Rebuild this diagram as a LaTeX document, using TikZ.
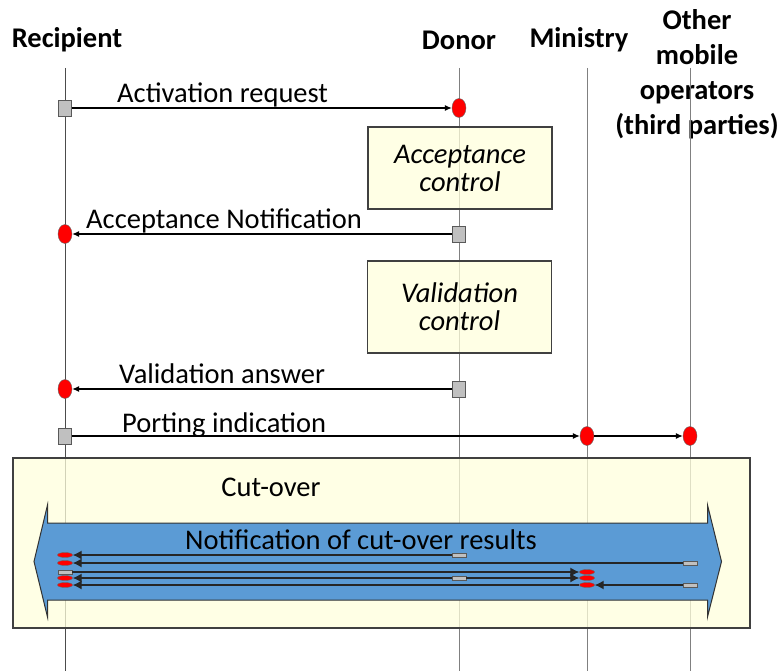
\documentclass[tikz,border=0pt]{standalone}
\usepackage{fontspec}
\setmainfont{Carlito}
\usetikzlibrary{arrows.meta,shapes.geometric}

\definecolor{notebox}{RGB}{255,255,220}
\definecolor{cutblue}{RGB}{91,155,213}
\definecolor{markgray}{RGB}{192,192,192}

\tikzset{
  head/.style={font=\fontsize{28.5}{35}\selectfont\bfseries, align=center},
  msg/.style={font=\fontsize{28.5}{30}\selectfont, anchor=base west, inner sep=0pt},
  life/.style={draw=gray, line width=1pt},
  ctrlbox/.style={draw=black!75, line width=1.2pt, fill=notebox, fill opacity=0.75, text opacity=1,
    minimum width=184pt, align=center, font=\fontsize{28.5}{28}\selectfont\itshape},
  sendbox/.style={rectangle, draw=black!65, fill=markgray, minimum width=13pt, minimum height=16pt, inner sep=0pt},
  recvdot/.style={ellipse, draw=black!60, fill=red, minimum width=14pt, minimum height=19pt, inner sep=0pt},
  msgline/.style={line width=1.1pt, -{Latex[length=7pt,width=6pt]}},
  smallsend/.style={rectangle, draw=black!65, fill=markgray, minimum width=14pt, minimum height=4pt, inner sep=0pt},
  smallrecv/.style={ellipse, draw=black!60, fill=red, minimum width=15pt, minimum height=5pt, inner sep=0pt},
  noteline/.style={draw=black!85, line width=1.3pt, -{Latex[length=9pt,width=9pt]}},
}

\begin{document}
\begin{tikzpicture}[x=1pt, y=-1pt]
  \useasboundingbox (0,0) rectangle (781,671);

  % parties
  \node[head] (rec) at (67,40) {Recipient};
  \node[head] (don) at (459,40) {Donor};
  \node[head] (min) at (579,40) {Ministry};
  \node[head] (oth) at (697,74) {Other\\mobile\\operators\\(third parties)};

  % lifelines
  \foreach \n/\x in {rec/65, don/459, min/587, oth/690} {
    \coordinate (\n-top) at (\x,68);
    \coordinate (\n-bot) at (\x,671);
  }
  \draw[life, draw=black!70] (rec-top) -- (rec-bot);
  \foreach \n in {don,min,oth}
    \draw[life] (\n-top) -- (\n-bot);

  % controls at the donor
  \node[ctrlbox, minimum height=82pt] (acc) at (460,168) {Acceptance\\control};
  \node[ctrlbox, minimum height=92pt] (val) at (459.5,307) {Validation\\control};

  % messages
  \node[sendbox] (s1) at (65,108) {};
  \node[recvdot] (r1) at (459,108) {};
  \draw[msgline] (s1) -- (r1);
  \node[msg] (m1) at (117,103) {Activation request};

  \node[sendbox] (s2) at (459,234) {};
  \node[recvdot] (r2) at (65,234) {};
  \draw[msgline] (s2) -- (r2);
  \node[msg] (m2) at (86,228) {Acceptance Notification};

  \node[sendbox] (s3) at (459,389) {};
  \node[recvdot] (r3) at (65,389) {};
  \draw[msgline] (s3) -- (r3);
  \node[msg] (m3) at (119,383) {Validation answer};

  \node[sendbox] (s4) at (65,436) {};
  \node[recvdot] (r4) at (587,436) {};
  \node[recvdot] (r5) at (690,436) {};
  \draw[msgline] (s4) -- (r4);
  \draw[msgline] (r4) -- (r5);
  \node[msg] (m4) at (122,432) {Porting indication};

  % cut-over
  \node[draw=black!75, line width=1.2pt, fill=notebox, fill opacity=0.75,
    minimum width=737pt, minimum height=170pt] (cut) at (381.5,543) {};
  \node[font=\fontsize{28.5}{30}\selectfont] (cuttxt) at (271,487) {Cut-over};

  \fill[cutblue, draw=black!80, line width=1pt]
    (34,561.5) -- (47.5,505) -- (47.5,523) -- (707.5,523) -- (707.5,505) -- (721.5,561.5)
    -- (707.5,617) -- (707.5,600) -- (47.5,600) -- (47.5,617) -- cycle;
  \node[font=\fontsize{28.5}{30}\selectfont] (notif) at (361,540) {Notification of cut-over results};

  % notifications
  \node[smallrecv] (a1) at (65,555) {};
  \node[smallsend] (b1) at (459,555) {};
  \draw[noteline] (b1) -- (a1);

  \node[smallrecv] (a2) at (65,563) {};
  \node[smallsend] (b2) at (690,563) {};
  \draw[noteline] (b2) -- (a2);

  \node[smallsend] (a3) at (65,572) {};
  \node[smallrecv] (b3) at (587,572) {};
  \draw[noteline] (a3) -- (b3);

  \node[smallrecv] (a4) at (65,578) {};
  \node[smallsend] (b4) at (459,578) {};
  \node[smallrecv] (c4) at (587,578) {};
  \draw[noteline] (b4) -- (a4);
  \draw[noteline] (b4) -- (c4);

  \node[smallrecv] (a5) at (65,585) {};
  \node[smallrecv] (b5) at (587,585) {};
  \node[smallsend] (c5) at (690,585) {};
  \draw[noteline] (c5) -- (b5);
  \draw[noteline] (b5) -- (a5);

\end{tikzpicture}
\end{document}
